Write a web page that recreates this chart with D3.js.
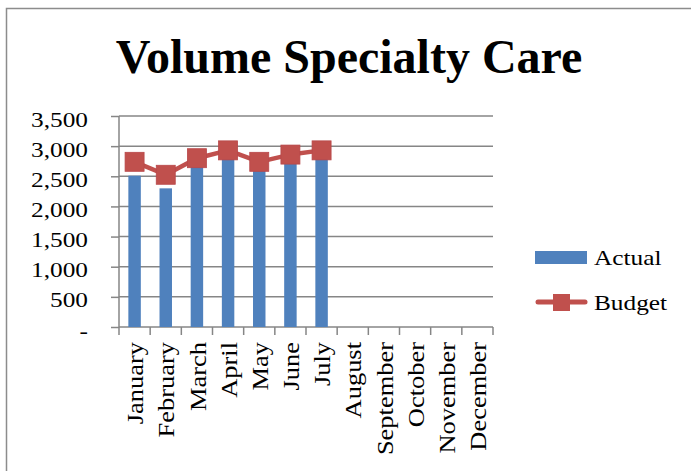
<!DOCTYPE html>
<html><head><meta charset="utf-8">
<script src="https://cdn.jsdelivr.net/npm/d3@7"></script>
<style>body{margin:0;background:#fff}svg{display:block}text{font-family:"Liberation Serif","Times New Roman",serif;fill:#000}</style>
</head><body>
<svg id="c" width="691" height="471"></svg>
<script>
const title = "Volume Specialty Care";
const months = ["January","February","March","April","May","June","July","August","September","October","November","December"];
const actual = [2510, 2300, 2680, 2830, 2620, 2720, 2800];
const budget = [2740, 2525, 2800, 2930, 2740, 2860, 2930];
const yTicks = [0, 500, 1000, 1500, 2000, 2500, 3000, 3500];
const seriesNames = ["Actual", "Budget"];
const colors = {Actual: "#4F81BD", Budget: "#C0504D"};

const svg = d3.select("#c");
const stretch = 1.15;
function widen(sel){ sel.each(function(){ const l=this.getComputedTextLength(); this.setAttribute("textLength", l*stretch); this.setAttribute("lengthAdjust","spacingAndGlyphs"); }); }

svg.append("rect").attr("x",6.5).attr("y",8.5).attr("width",720).attr("height",500)
  .attr("fill","none").attr("stroke","#8c8c8c").attr("stroke-width",1.5);

svg.append("text").attr("x",349).attr("y",73).attr("text-anchor","middle")
  .attr("font-size",48).attr("font-weight","bold").text(title);

const L = 119, R = 493, T = 116, B = 327;
const x = d3.scaleBand().domain(months).range([L, R]).padding(0);
const y = d3.scaleLinear().domain([0, 3500]).range([B, T]);
const grey = "#868686";

// gridlines
svg.append("g").selectAll("line").data(yTicks.filter(d=>d>0)).join("line")
  .attr("x1", L).attr("x2", R).attr("y1", d=>y(d)).attr("y2", d=>y(d))
  .attr("stroke", grey).attr("stroke-width", 1.5);

// y axis
const yAxis = svg.append("g").attr("transform",`translate(${L},0)`)
  .call(d3.axisLeft(y).tickValues(yTicks).tickSize(8).tickPadding(0)
    .tickFormat(d => d === 0 ? "-" : d3.format(",")(d)));
yAxis.select(".domain").attr("stroke", grey).attr("stroke-width",1.5).attr("d", `M0,${T}V${B}`);
yAxis.selectAll(".tick line").attr("stroke", grey).attr("stroke-width",1.5);
yAxis.selectAll(".tick text").attr("x",-31).attr("dy",null).attr("y",10)
  .attr("font-size",22).attr("font-family",'"Liberation Serif",serif').attr("fill","#000");
widen(yAxis.selectAll(".tick text"));

// x axis line and ticks at category boundaries
svg.append("line").attr("x1",L).attr("x2",R).attr("y1",B).attr("y2",B).attr("stroke",grey).attr("stroke-width",1.5);
const bounds = months.map(m=>x(m)).concat([x(months[months.length-1])+x.bandwidth()]);
svg.append("g").selectAll("line").data(bounds).join("line")
  .attr("x1",d=>d).attr("x2",d=>d).attr("y1",B).attr("y2",B+8).attr("stroke",grey).attr("stroke-width",1.5);

// x labels
const xl = svg.append("g").selectAll("text").data(months).join("text")
  .attr("transform", d=>`translate(${x(d)+x.bandwidth()/2+1},${B+15}) rotate(-90)`)
  .attr("text-anchor","end").attr("dy","0.33em").attr("font-size",23).text(d=>d);
widen(xl);

// bars
const bw = x.bandwidth()*0.4;
svg.append("g").selectAll("rect").data(actual).join("rect")
  .attr("x",(d,i)=>x(months[i])+x.bandwidth()/2-bw/2).attr("width",bw)
  .attr("y",d=>y(d)).attr("height",d=>B-y(d)).attr("fill",colors.Actual);

// budget line
const cx = i => x(months[i])+x.bandwidth()/2;
svg.append("path").datum(budget).attr("fill","none").attr("stroke",colors.Budget).attr("stroke-width",4.5)
  .attr("stroke-linejoin","round")
  .attr("d", d3.line().x((d,i)=>cx(i)).y(d=>y(d)));
const ms = 19;
svg.append("g").selectAll("rect").data(budget).join("rect")
  .attr("x",(d,i)=>cx(i)-ms/2).attr("y",d=>y(d)-ms/2).attr("width",ms).attr("height",ms)
  .attr("fill",colors.Budget).attr("stroke","#b8484a").attr("stroke-width",0.8);

// legend
const lg = svg.append("g");
lg.append("rect").attr("x",535).attr("y",251).attr("width",52).attr("height",13).attr("fill",colors.Actual);
lg.append("line").attr("x1",538).attr("x2",585).attr("y1",302).attr("y2",302)
  .attr("stroke",colors.Budget).attr("stroke-width",5).attr("stroke-linecap","round");
lg.append("rect").attr("x",553).attr("y",294).attr("width",17).attr("height",17).attr("fill",colors.Budget);
const lt = lg.selectAll("text").data(seriesNames).join("text")
  .attr("x",594).attr("y",(d,i)=>i===0?265:310).attr("font-size",22).text(d=>d);
widen(lt);
</script>
</body></html>
